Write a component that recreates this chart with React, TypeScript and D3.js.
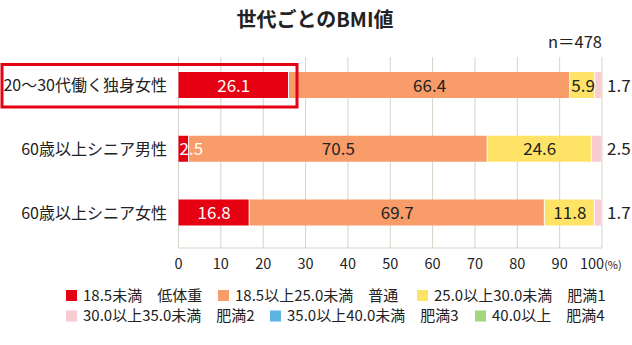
import React from "react";
import * as d3 from "d3";

const categories = ["20～30代働く独身女性", "60歳以上シニア男性", "60歳以上シニア女性"];
const underweight = [26.1, 2.5, 16.8];
const normal = [66.4, 70.5, 69.7];
const obese1 = [5.9, 24.6, 11.8];
const obese2 = [1.7, 2.5, 1.7];
const obese3 = [0, 0, 0];
const obese4 = [0, 0, 0];
const seriesNames = [
  "18.5未満　低体重",
  "18.5以上25.0未満　普通",
  "25.0以上30.0未満　肥満1",
  "30.0以上35.0未満　肥満2",
  "35.0以上40.0未満　肥満3",
  "40.0以上　肥満4",
];
const colors = ["#e50012", "#f89d6a", "#fee366", "#f8ccd1", "#5db3e2", "#a6d67c"];
const ticks = [0, 10, 20, 30, 40, 50, 60, 70, 80, 90, 100];
const title = "世代ごとのBMI値";
const nLabel = "n＝478";

const FONT = "'Noto Sans CJK JP', 'Noto Sans', sans-serif";

export default function App() {
  const W = 632, H = 345;
  const x = d3.scaleLinear().domain([0, 100]).range([178.5, 602]);
  const y = d3.scalePoint<string>().domain(categories).range([85, 212.5]);
  const barH = 26;
  const series = [underweight, normal, obese1, obese2, obese3, obese4];

  const rows = categories.map((c, i) => {
    let acc = 0;
    const segs = series.map((s, k) => {
      const v = s[i];
      const seg = { k, v, x0: x(acc), x1: x(acc + v) };
      acc += v;
      return seg;
    });
    return { c, segs };
  });

  const legendPos = [
    [66, 290], [218, 290], [417, 290],
    [66, 310.5], [270, 310.5], [475, 310.5],
  ];

  return (
    <svg width={W} height={H} style={{ position: "absolute", left: 0, top: 0 }} fontFamily={FONT}>
      <rect width={W} height={H} fill="#fff" />
      <text x={315} y={27} textAnchor="middle" fontSize={20} fontWeight="bold" fill="#222">{title}</text>
      <text x={602} y={48} textAnchor="end" fontSize={16.5} fill="#222">{nLabel}</text>
      {ticks.map((t) => (
        <line key={t} x1={x(t)} x2={x(t)} y1={57} y2={248} stroke="#d8d3c8" strokeWidth={1} />
      ))}
      <line x1={x(0)} x2={x(100)} y1={248} y2={248} stroke="#d8d3c8" strokeWidth={1} />
      {rows.map((r) => {
        const cy = y(r.c)!;
        return (
          <g key={r.c}>
            <text x={167} y={cy + 6} textAnchor="end" fontSize={16} fill="#222">{r.c}</text>
            {r.segs.filter((s) => s.v > 0).map((s) => (
              <rect key={s.k} x={s.x0} y={cy - barH / 2} width={Math.max(0, s.x1 - s.x0 - 1)} height={barH} fill={colors[s.k]} />
            ))}
            {r.segs.filter((s) => s.v > 0 && s.k < 3).map((s) => {
              const w = s.x1 - s.x0;
              const narrow = w < 26;
              return (
                <text key={"t" + s.k} x={narrow ? s.x0 + 1 : (s.x0 + s.x1) / 2} y={cy + 6.5}
                  textAnchor={narrow ? "start" : "middle"} fontSize={17}
                  fill={s.k === 0 ? "#fff" : "#222"}>{s.v.toFixed(1)}</text>
              );
            })}
            {r.segs.filter((s) => s.k === 3 && s.v > 0).map((s) => (
              <text key="out" x={607} y={cy + 6.5} fontSize={17} fill="#222">{s.v.toFixed(1)}</text>
            ))}
          </g>
        );
      })}
      <rect x={2} y={64.5} width={295} height={42.5} fill="none" stroke="#e50012" strokeWidth={3} />
      {ticks.map((t) => (
        t === 100 ? (
          <text key={t} x={580} y={269} textAnchor="start" fontSize={14.5} fill="#222">
            100<tspan fontSize={11}>(%)</tspan>
          </text>
        ) : (
          <text key={t} x={x(t)} y={269} textAnchor="middle" fontSize={14.5} fill="#222">{t}</text>
        )
      ))}
      {seriesNames.map((n, k) => (
        <g key={n}>
          <rect x={legendPos[k][0]} y={legendPos[k][1]} width={11} height={11} fill={colors[k]} />
          <text x={legendPos[k][0] + 17} y={legendPos[k][1] + 10.5} fontSize={15} fill="#222">{n}</text>
        </g>
      ))}
    </svg>
  );
}
